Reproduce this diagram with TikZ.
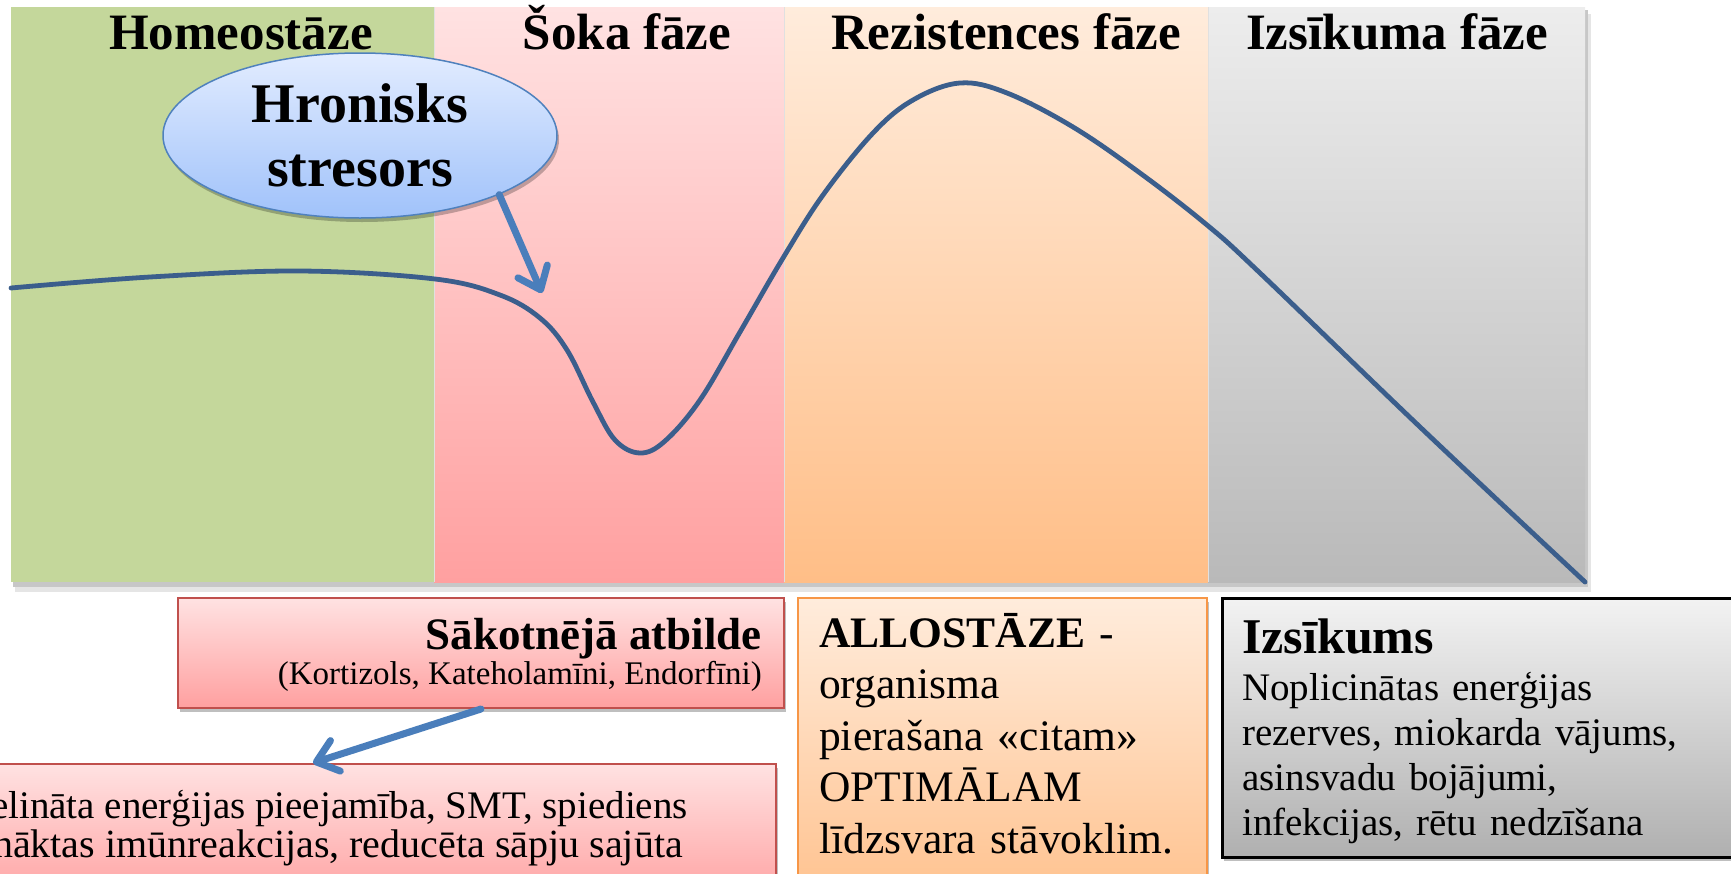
\documentclass[tikz,border=0pt]{standalone}
\usepackage{fontspec}
\setmainfont{Liberation Serif}
\usepackage{tikz}
\usetikzlibrary{arrows.meta,shapes.geometric,shadows}
\definecolor{phasegreen}{RGB}{196, 215, 155}
\definecolor{shocktop}{RGB}{255, 226, 226}
\definecolor{shockbot}{RGB}{255, 160, 160}
\definecolor{restop}{RGB}{255, 236, 220}
\definecolor{resbot}{RGB}{255, 190, 135}
\definecolor{exhtop}{RGB}{237, 237, 237}
\definecolor{exhbot}{RGB}{185, 185, 185}
\definecolor{curveblue}{RGB}{59, 94, 140}
\definecolor{arrowblue}{RGB}{74, 126, 187}
\definecolor{ovaltop}{RGB}{226, 236, 255}
\definecolor{ovalbot}{RGB}{160, 194, 250}
\definecolor{ovalline}{RGB}{79, 129, 189}
\definecolor{redline}{RGB}{192, 80, 77}
\definecolor{orangeline}{RGB}{247, 150, 70}

\begin{document}
\begin{tikzpicture}[x = 1pt, y = -1pt,
		phasehead/.style = {anchor = base, inner sep = 0pt, font = \bfseries\fontsize{51}{60}\selectfont},
		boxshadow/.style = {drop shadow = {shadow xshift = 2pt, shadow yshift = -4pt, fill = black, opacity = 0.25}},
		redbox/.style = {draw = redline, line width = 2pt, top color = shocktop, bottom color = shockbot, anchor = north west, boxshadow},
		orangebox/.style = {draw = orangeline, line width = 2pt, top color = restop, bottom color = resbot, anchor = north west, boxshadow},
		greybox/.style = {draw = black, line width = 2.5pt, top color = exhtop!70!white, bottom color = exhbot!95!black, anchor = north west, boxshadow},
		bluearrow/.style = {draw = arrowblue, line width = 7pt, line cap = round, -{Straight Barb[length = 20pt, width = 32pt, line cap = round, line join = round]}}]
		\useasboundingbox (0,0) rectangle (1731,873);
		\clip (0,0) rectangle (1731,873);
		% panel shadow and phases
		\fill[black!10] (15,14) rectangle (1591,592);
		\fill[black!22] (13,10) rectangle (1588,587);
		\fill[phasegreen] (11,7) rectangle (434,582);
		\shade[top color = shocktop, bottom color = shockbot] (434,7) rectangle (784,582);
		\shade[top color = restop, bottom color = resbot] (784,7) rectangle (1208,582);
		\shade[top color = exhtop, bottom color = exhbot] (1208,7) rectangle (1585,582);
		\draw[black!12, line width = 1pt] (434,7) -- (434,582) (784,7) -- (784,582) (1208,7) -- (1208,582);
		\node (homeo) at (241,49) [phasehead] {Homeostāze};
		\node (shock) at (627,49) [phasehead] {Šoka fāze};
		\node (resist) at (1006,49) [phasehead] {Rezistences fāze};
		\node (exhaust) at (1397,49) [phasehead] {Izsīkuma fāze};
		% stress curve
		\draw[curveblue, line width = 4.8pt, line cap = round] plot[smooth, tension = 0.6] coordinates {(11,288) (150,277) (300,271) (435,279) (500,295) (540,318) (567,350) (593,402) (615,440) (640,453) (665,441) (700,400) (740,332) (783,258) (823,195) (873,133) (913,100) (960,83) (1007,93) (1073,127) (1140,173) (1207,225) (1260,273) (1420,427) (1585,582)};
		% stressor
		\node (stresor) at (360,135.5) [ellipse, draw = ovalline, line width = 1.5pt, top color = ovaltop, bottom color = ovalbot, minimum width = 394pt, minimum height = 165pt, inner sep = 0pt, align = center, boxshadow, font = \bfseries\fontsize{56}{64}\selectfont] {Hronisks\\stresors};
		\coordinate (dip) at (542,293);
		\draw[bluearrow] (stresor.-23) -- (dip);
		% boxes under the phases
		\node (onset) at (177,597) [redbox, minimum width = 606pt, minimum height = 110pt] {};
		\node (allo) at (797,597) [orangebox, minimum width = 409pt, minimum height = 330pt] {};
		\node (exhbox) at (1221,597) [greybox, minimum width = 560pt, minimum height = 259pt] {};
		\node (effects) at (-30,763) [redbox, minimum width = 805pt, minimum height = 140pt] {};
		\node (onsethead) at (762,649) [anchor = base east, inner sep = 0pt, font = \bfseries\fontsize{45}{54}\selectfont] {Sākotnējā atbilde};
		\node (onsetsub) at (762,684) [anchor = base east, inner sep = 0pt, font = \fontsize{33}{40}\selectfont] {(Kortizols, Kateholamīni, Endorfīni)};
		\node (allotext) at (819,647) [anchor = base west, inner sep = 0pt, text width = 380pt, align = left, font = \fontsize{43.5}{51.5}\selectfont] {\textbf{ALLOSTĀZE} -\\organisma\\pierašana «citam»\\OPTIMĀLAM\\līdzsvara stāvoklim.};
		\node (exhhead) at (1242,653) [anchor = base west, inner sep = 0pt, font = \bfseries\fontsize{50}{58}\selectfont] {Izsīkums};
		\node (exhtext) at (1242,700) [anchor = base west, inner sep = 0pt, text width = 470pt, align = left, font = \fontsize{39}{45}\selectfont] {Noplicinātas enerģijas\\rezerves, miokarda vājums,\\asinsvadu bojājumi,\\infekcijas, rētu nedzīšana};
		\node (effline1) at (688,818) [anchor = base east, inner sep = 0pt, font = \fontsize{39}{45}\selectfont] {elināta enerģijas pieejamība, SMT, spiediens};
		\node (effline2) at (683,857) [anchor = base east, inner sep = 0pt, font = \fontsize{40}{45}\selectfont] {nāktas imūnreakcijas, reducēta sāpju sajūta};
		\coordinate (effin) at (313,763);
		\draw[bluearrow] (onset.south) -- (effin);
		\end{tikzpicture}
\end{document}
